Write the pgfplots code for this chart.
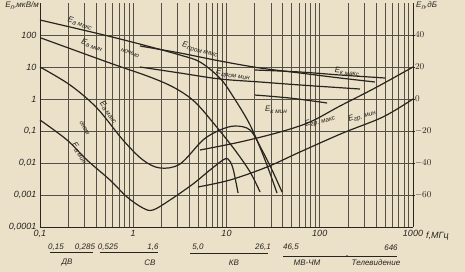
\documentclass[border=0pt]{standalone}
\usepackage{pgfplots}
\pgfplotsset{compat=1.18}
\usepackage{fontspec}
\setmainfont{Liberation Sans}
\definecolor{paper}{RGB}{235,225,200}
\definecolor{ink}{RGB}{40,36,32}
\definecolor{gridc}{RGB}{85,80,70}
\newcommand\lab[2]{{\fontsize{8}{9}\selectfont\itshape #1\raisebox{-0.35ex}{\fontsize{6.5}{7}\selectfont #2}}}
\pgfplotsset{curve/.style={draw=ink, line width=1.2pt, smooth, tension=0.55, mark=none}}
\begin{document}
\begin{tikzpicture}
\useasboundingbox (-40pt,-45pt) rectangle (425pt,227pt);
\fill[paper] (-40pt,-45pt) rectangle (425pt,227pt);
\begin{axis}[
  scale only axis, width=373pt, height=224pt,
  xmode=log, ymode=log,
  xmin=0.1, xmax=1000, ymin=1e-4, ymax=1e3,
  axis x line=bottom, axis y line=left,
  axis line style={-, ink, line width=0.9pt},
  xtick={0.1,1,10,100,1000},
  xticklabels={{0,1},1,10,100,1000},
  minor xtick={0.2,0.3,0.4,0.5,0.6,0.7,0.8,0.9,2,3,4,5,6,7,8,9,20,30,40,50,60,70,80,90,200,300,400,500,600,700,800,900},
  ytick={1e-4,1e-3,1e-2,1e-1,1,10,100},
  yticklabels={{0,0001},{0,001},{0,01},{0,1},1,10,100},
  xmajorgrids, xminorgrids, ymajorgrids,
  major grid style={gridc, line width=0.8pt},
  minor grid style={gridc, line width=0.55pt},
  major tick length=0pt, minor tick length=0pt,
  ticklabel style={font=\fontsize{9}{10}\selectfont\itshape, text=ink},
  clip=false,
]
% E_a max (night)
\addplot[curve] coordinates {(0.1,294) (0.44,107) (1.18,52) (3.17,23.7) (5.2,14.3) (8.5,4.5) (11.5,1.33) (17.9,0.154) (25.9,0.0124) (34.8,0.00115)};
% E_a min (night)
\addplot[curve] coordinates {(0.1025,80.5) (0.563,13.3) (1.51,4.87) (2.8,2.2) (4.59,0.806) (7.53,0.154) (12.3,0.0255) (17.9,0.00523) (22.9,0.00124)};
% E_a max (day)
\addplot[curve] coordinates {(0.1,10) (0.21,2.74) (0.408,0.523) (0.776,0.0523) (1.27,0.0124) (1.94,0.00698) (3.17,0.0093) (5.6,0.0523) (8.5,0.107) (12.3,0.143) (17.9,0.107) (24,0.0255) (30.8,0.00604) (39.4,0.00124)};
% E_a min (day)
\addplot[curve] coordinates {(0.1,0.221) (0.195,0.0523) (0.319,0.0124) (0.563,0.00294) (0.857,0.000866) (1.27,0.000392) (1.63,0.00034) (2.48,0.000698) (4.37,0.00221) (6.65,0.00604) (9.17,0.0124) (10.4,0.0133) (11.7,0.00698) (13.3,0.00115)};
% E_gr max
\addplot[curve] coordinates {(5.2,0.0255) (14,0.0453) (37.5,0.093) (78.5,0.191) (165,0.605) (391,2.2) (1000,10)};
% E_gr min
\addplot[curve] coordinates {(4.94,0.00178) (10.9,0.00294) (27.2,0.0075) (61.4,0.0221) (177,0.0866) (476,0.274) (1000,1.0)};
% E_prom max
\addplot[curve] coordinates {(1.18,45.3) (3.17,27.4) (8.5,15.4) (22.9,9.3) (61.4,6.49) (165,4.53) (391,3.4)};
% E_prom min
\addplot[curve] coordinates {(1.18,10) (3.17,6.49) (8.5,4.22) (22.9,3.4) (61.4,2.74) (270,2.05)};
% E_k max
\addplot[curve] coordinates {(20.2,8.06) (61.4,6.98) (165,5.62) (501,4.53)};
% E_k min
\addplot[curve] coordinates {(20.2,1.33) (48,1.07) (120,0.75)};
\end{axis}
\begin{axis}[
  scale only axis, width=373pt, height=224pt,
  xmode=log, xmin=0.1, xmax=1000, ymin=-80, ymax=60,
  axis x line=none, axis y line=right,
  axis line style={-, ink, line width=0.9pt},
  ytick={-60,-40,-20,0,20,40},
  major tick length=3pt, tick style={ink, line width=0.6pt},
  yticklabel style={font=\fontsize{9}{10}\selectfont\itshape, text=ink, xshift=-3pt},
]
\addplot[draw=none] coordinates {(1,0)};
\end{axis}
% axis titles
\node[anchor=north east, inner sep=0pt, text=ink] at (-1pt,225pt) {\lab{E}{п}{\fontsize{8}{9}\selectfont\itshape,мкВ/м}};
\node[anchor=north west, inner sep=0pt, text=ink] at (376pt,225pt) {\lab{E}{п}{\fontsize{8}{9}\selectfont\itshape,дБ}};
\node[anchor=west, inner sep=0pt, text=ink] at (386pt,-9pt) {\fontsize{9}{10}\selectfont\itshape f,МГц};
% band row
\begin{scope}[every node/.style={text=ink, inner sep=0pt, font=\fontsize{8}{9}\selectfont\itshape}]
\node at (16pt,-20pt) {0,15};
\node at (45pt,-20pt) {0,285};
\node at (68pt,-20pt) {0,525};
\node at (113pt,-20pt) {1,6};
\node at (158pt,-20pt) {5,0};
\node at (223pt,-20pt) {26,1};
\node at (251pt,-20pt) {46,5};
\node at (351pt,-21pt) {646};
\node at (27pt,-36pt) {ДВ};
\node at (110pt,-36pt) {СВ};
\node at (194pt,-36pt) {КВ};
\node at (267pt,-36pt) {МВ-ЧМ};
\node at (336pt,-36pt) {Телевидение};
\end{scope}
\draw[ink, line width=0.6pt] (10pt,-25pt) -- (53pt,-25pt);
\draw[ink, line width=0.6pt] (60pt,-25pt) -- (118pt,-25pt);
\draw[ink, line width=0.6pt] (150pt,-26pt) -- (228pt,-26pt);
\draw[ink, line width=0.6pt] (243pt,-29pt) -- (357pt,-29pt);
\fill[ink] (307pt,-29pt) circle (0.9pt);
% curve labels
\begin{scope}[every node/.style={text=ink, inner sep=0pt}]
\node[rotate=-17] at (40pt,204pt) {\lab{E}{а макс}};
\node[rotate=-20] at (52pt,182pt) {\lab{E}{а мин}};
\node[rotate=-20] at (90pt,174pt) {{\fontsize{6.5}{7}\selectfont\itshape ночью}};
\node[rotate=-14] at (160pt,177pt) {\lab{E}{пром макс}};
\node[rotate=-8] at (193pt,152pt) {\lab{E}{пром мин}};
\node[rotate=-5] at (307pt,155pt) {\lab{E}{к макс}};
\node at (236pt,117pt) {\lab{E}{к мин}};
\node[rotate=17] at (280pt,106pt) {\lab{E}{гр. макс}};
\node[rotate=18] at (322pt,111pt) {\lab{E}{гр. мин}};
\node[rotate=-52] at (69pt,115pt) {\lab{E}{а макс}};
\node[rotate=-62] at (45pt,99pt) {{\fontsize{6.5}{7}\selectfont\itshape днем}};
\node[rotate=-55] at (40pt,74pt) {\lab{E}{а мин}};
\end{scope}
\end{tikzpicture}
\end{document}
